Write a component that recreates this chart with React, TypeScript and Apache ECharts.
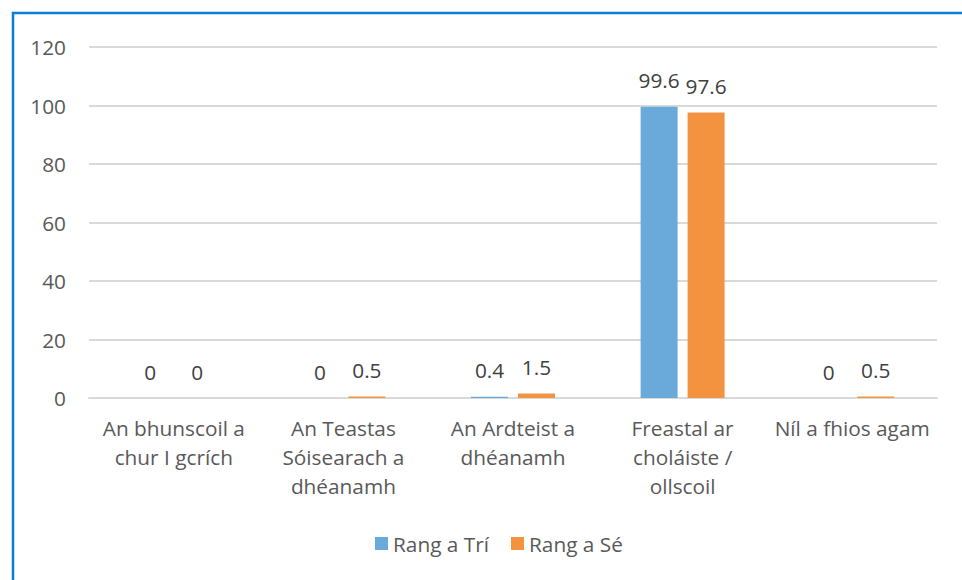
import React, { useEffect, useRef } from "react";
import * as echarts from "echarts";

const categories = [
  "An bhunscoil a\nchur I gcrích",
  "An Teastas\nSóisearach a\ndhéanamh",
  "An Ardteist a\ndhéanamh",
  "Freastal ar\ncholáiste /\nollscoil",
  "Níl a fhios agam",
];
const seriesNames = ["Rang a Trí", "Rang a Sé"];
const rangTri = [0, 0, 0.4, 99.6, 0];
const rangSe = [0, 0.5, 1.5, 97.6, 0.5];
const yTicks = { min: 0, max: 120, interval: 20 };

const FONT = "'Open Sans', sans-serif";
const TXT = "#595959";
const FS = 20.8;

export default function App() {
  const ref = useRef<HTMLDivElement>(null);
  useEffect(() => {
    if (!ref.current) return;
    const chart = echarts.init(ref.current, undefined, { renderer: "svg" });
    const label = {
      show: true,
      position: "top" as const,
      distance: 16,
      color: "#404040",
      fontSize: FS,
      fontFamily: FONT,
    };
    chart.setOption({
      animation: false,
      backgroundColor: "#ffffff",
      textStyle: { fontFamily: FONT },
      graphic: [
        {
          type: "rect",
          shape: { x: 13, y: 13, width: 1000, height: 700 },
          style: { fill: "none", stroke: "#0b7fd2", lineWidth: 2.5 },
          silent: true,
          z: 100,
        },
      ],
      grid: { left: 89, right: 25, top: 47, bottom: 182, containLabel: false },
      legend: {
        bottom: 21,
        left: 370,
        itemWidth: 13,
        itemHeight: 13,
        itemGap: 22,
        icon: "rect",
        textStyle: { color: TXT, fontSize: FS, fontFamily: FONT },
        data: seriesNames,
      },
      xAxis: {
        type: "category",
        data: categories,
        axisLine: { lineStyle: { color: "#d9d9d9", width: 2 } },
        axisTick: { show: false },
        axisLabel: {
          interval: 0,
          color: TXT,
          fontSize: FS,
          fontFamily: FONT,
          margin: 15,
          lineHeight: 29,
        },
      },
      yAxis: {
        type: "value",
        min: yTicks.min,
        max: yTicks.max,
        interval: yTicks.interval,
        axisLine: { show: false },
        axisTick: { show: false },
        splitLine: { lineStyle: { color: "#d9d9d9", width: 2 } },
        axisLabel: { color: TXT, fontSize: FS, fontFamily: FONT, margin: 23 },
      },
      series: [
        {
          name: seriesNames[0],
          type: "bar",
          data: rangTri,
          barWidth: 37,
          barGap: "27%",
          itemStyle: { color: "#6aaadb" },
          label,
        },
        {
          name: seriesNames[1],
          type: "bar",
          data: rangSe,
          barWidth: 37,
          itemStyle: { color: "#f39340" },
          label,
        },
      ],
    });
    return () => chart.dispose();
  }, []);
  return (
    <div
      ref={ref}
      style={{ position: "fixed", left: 0, top: 0, width: 962, height: 580 }}
    />
  );
}
